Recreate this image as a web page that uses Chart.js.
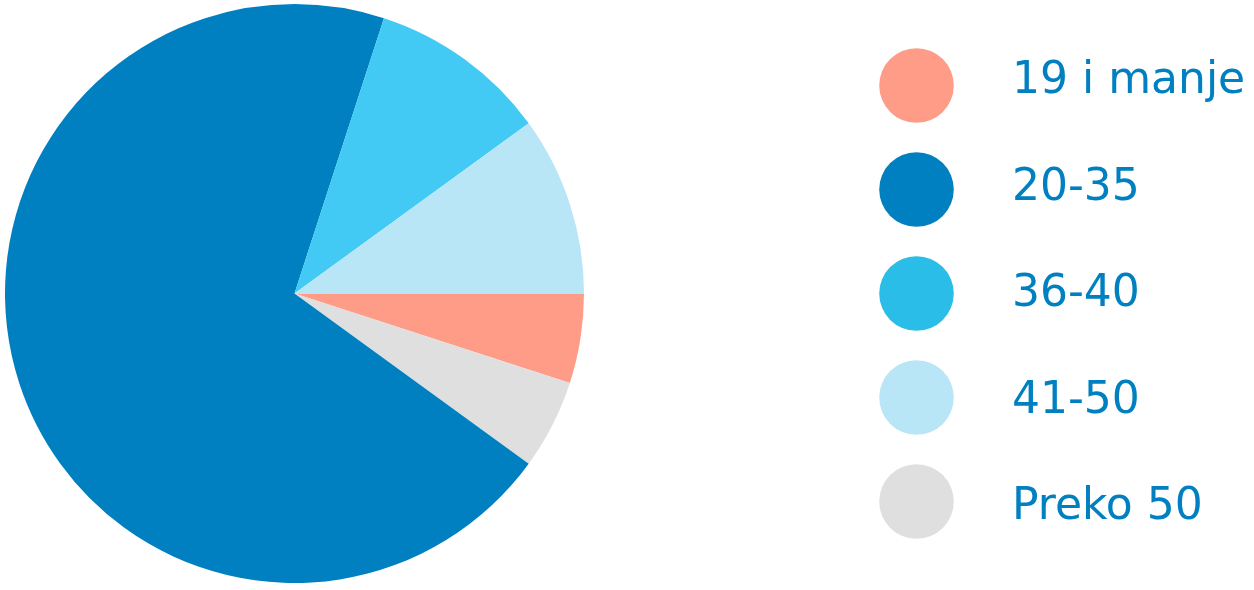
<!DOCTYPE html>
<html>
<head>
<meta charset="utf-8">
<script src="https://cdn.jsdelivr.net/npm/chart.js"></script>
<style>
  html, body { margin: 0; padding: 0; background: #fff; overflow: hidden; }
  #wrap { position: relative; width: 1254px; height: 590px; }
  canvas { display: block; }
</style>
</head>
<body>
<div id="wrap"><canvas id="pieChart" width="1254" height="590"></canvas></div>
<script>
// --- DATA ---
const categories = ['19 i manje', '20-35', '36-40', '41-50', 'Preko 50'];
const shares = [5, 70, 10, 10, 5];
// order the slices go round the pie, clockwise from 3 o'clock
const sliceOrder = ['19 i manje', 'Preko 50', '20-35', '36-40', '41-50'];

// --- COLOURS ---
const sliceColors = {
    '19 i manje': '#ff9c87',
    '20-35': '#0080c0',
    '36-40': '#43caf4',
    '41-50': '#b9e6f7',
    'Preko 50': '#dfdfdf'
};
const legendColors = ['#ff9c87', '#0080c0', '#29bde8', '#b9e6f7', '#dfdfdf'];
const textColor = '#0080c0';

const pieLabels = sliceOrder;
const pieData = sliceOrder.map(name => shares[categories.indexOf(name)]);
const pieBg = sliceOrder.map(name => sliceColors[name]);

// --- LEGEND (drawn on the canvas) ---
const sideLegend = {
    id: 'sideLegend',
    afterDraw(chart) {
        const ctx = chart.ctx;
        ctx.save();
        categories.forEach((name, i) => {
            const cy = 85.5 + i * 104;
            ctx.beginPath();
            ctx.arc(916.5, cy, 37.3, 0, Math.PI * 2);
            ctx.fillStyle = legendColors[i];
            ctx.fill();

            ctx.font = '44px "DejaVu Sans"';
            ctx.fillStyle = textColor;
            ctx.textBaseline = 'alphabetic';
            ctx.textAlign = 'left';
            ctx.fillText(name, 1012, 93 + i * 106.5);
        });
        ctx.restore();
    }
};

// --- PIE CHART ---
const ctx = document.getElementById('pieChart').getContext('2d');
new Chart(ctx, {
    type: 'pie',
    data: {
        labels: pieLabels,
        datasets: [{
            data: pieData,
            backgroundColor: pieBg,
            borderWidth: 0
        }]
    },
    options: {
        responsive: false,
        animation: false,
        rotation: 90,
        layout: { padding: { left: 5, top: 4, right: 670, bottom: 7 } },
        plugins: {
            legend: { display: false },
            tooltip: { enabled: false }
        }
    },
    plugins: [sideLegend]
});
</script>
</body>
</html>
